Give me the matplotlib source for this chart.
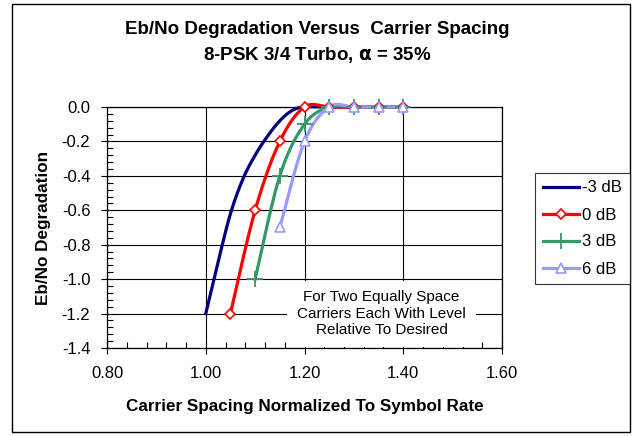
import numpy as np
import matplotlib
matplotlib.use("Agg")
import matplotlib.pyplot as plt
from matplotlib.ticker import MultipleLocator, FormatStrFormatter
from matplotlib.patches import Rectangle

plt.rcParams['font.family'] = ['Liberation Sans', 'DejaVu Sans']
plt.rcParams['axes.unicode_minus'] = False

# data
x_m3 = [1.00, 1.025, 1.05, 1.075, 1.10, 1.125, 1.15, 1.175, 1.20, 1.25, 1.30, 1.35, 1.40]
y_m3 = [-1.2, -0.9, -0.62, -0.42, -0.28, -0.17, -0.08, -0.02, 0.0, 0.0, 0.0, 0.0, 0.0]
x_0 = [1.05, 1.10, 1.15, 1.20, 1.25, 1.30, 1.35, 1.40]
y_0 = [-1.2, -0.6, -0.2, 0.0, 0.0, 0.0, 0.0, 0.0]
x_3 = [1.10, 1.15, 1.20, 1.25, 1.30, 1.35, 1.40]
y_3 = [-1.0, -0.4, -0.1, 0.0, 0.0, 0.0, 0.0]
x_6 = [1.15, 1.20, 1.25, 1.30, 1.35, 1.40]
y_6 = [-0.7, -0.2, 0.0, 0.0, 0.0, 0.0]
labels = ['-3 dB', '0 dB', '3 dB', '6 dB']


def smooth(xs, ys, n=30):
    # excel style smoothed line (catmull-rom bezier)
    p = np.column_stack([xs, ys]).astype(float)
    out = [p[0]]
    t = np.linspace(0, 1, n)[1:, None]
    for i in range(len(p) - 1):
        p0 = p[i - 1] if i > 0 else p[i]
        p3 = p[i + 2] if i + 2 < len(p) else p[i + 1]
        c1 = p[i] + (p[i + 1] - p0) / 6
        c2 = p[i + 1] - (p3 - p[i]) / 6
        seg = ((1 - t) ** 3) * p[i] + 3 * ((1 - t) ** 2) * t * c1 + 3 * (1 - t) * t ** 2 * c2 + t ** 3 * p[i + 1]
        out.extend(seg)
    out = np.array(out)
    return out[:, 0], out[:, 1]


fig = plt.figure(figsize=(6.34, 4.36), dpi=100)
ax = fig.add_axes([107 / 634, 1 - 348 / 436, 395 / 634, 241 / 436])

series = [
    (x_m3, y_m3, '#000080', None, {}),
    (x_0, y_0, '#FF0000', 'D', dict(markersize=5, markerfacecolor='white', markeredgewidth=1.2)),
    (x_3, y_3, '#339966', '+', dict(markersize=11, markeredgewidth=1.3)),
    (x_6, y_6, '#9999FF', '^', dict(markersize=7, markerfacecolor='white', markeredgewidth=1.2)),
]
handles = []
for (xs, ys, col, mk, kw), lab in zip(series, labels):
    sx, sy = smooth(xs, ys)
    ax.plot(sx, sy, color=col, lw=2.3, clip_on=False, zorder=3)
    ax.plot(xs, ys, ls='none', marker=mk, color=col, clip_on=False, zorder=4, **kw)
    h, = ax.plot([], [], color=col, lw=2.3, marker=mk, **kw)
    handles.append(h)

ax.set_xlim(0.80, 1.60)
ax.set_ylim(-1.4, 0.0)
ax.xaxis.set_major_locator(MultipleLocator(0.2))
ax.xaxis.set_minor_locator(MultipleLocator(0.04))
ax.yaxis.set_major_locator(MultipleLocator(0.2))
ax.yaxis.set_minor_locator(MultipleLocator(0.04))
ax.xaxis.set_major_formatter(FormatStrFormatter('%.2f'))
ax.yaxis.set_major_formatter(FormatStrFormatter('%.1f'))
ax.tick_params(which='major', direction='inout', length=8, width=0.8, labelsize=12)
ax.tick_params(axis='x', which='major', pad=9)
ax.tick_params(axis='y', which='major', pad=8)
ax.tick_params(which='minor', direction='in', length=4, width=0.8)
ax.grid(True, which='major', color='black', lw=0.8)
ax.set_axisbelow(True)
for sp in ax.spines.values():
    sp.set_linewidth(0.9)

ax.set_xlabel('Carrier Spacing Normalized To Symbol Rate', fontsize=12.3, fontweight='bold', labelpad=13)
ax.set_ylabel('Eb/No Degradation', fontsize=12.3, fontweight='bold', labelpad=8)

ax.text(1.356, -1.2, 'For Two Equally Space\nCarriers Each With Level\nRelative To Desired',
        ha='center', va='center', fontsize=11, linespacing=1.2, zorder=5,
        bbox=dict(facecolor='white', edgecolor='none', pad=7))

fig.text(0.5, 1 - 30 / 436, 'Eb/No Degradation Versus  Carrier Spacing',
         ha='center', va='center', fontsize=13.5, fontweight='bold')
fig.text(0.5, 1 - 55 / 436, r'8-PSK 3/4 Turbo, $\mathbf{\alpha}$ = 35%',
         ha='center', va='center', fontsize=13.5, fontweight='bold')

leg = fig.legend(handles, labels, loc='upper left', bbox_to_anchor=(535 / 634, 1 - 173 / 436),
                 fontsize=12, frameon=True, fancybox=False, handlelength=2.2,
                 handletextpad=0.2, borderpad=0.45, labelspacing=0.72, borderaxespad=0)
leg.get_frame().set_edgecolor('black')
leg.get_frame().set_linewidth(0.8)

fig.patches.append(Rectangle((12 / 634, 4 / 436), 618 / 634, 428 / 436, transform=fig.transFigure,
                             fill=False, edgecolor='black', lw=1.0))

fig.savefig('out.png', dpi=100)
